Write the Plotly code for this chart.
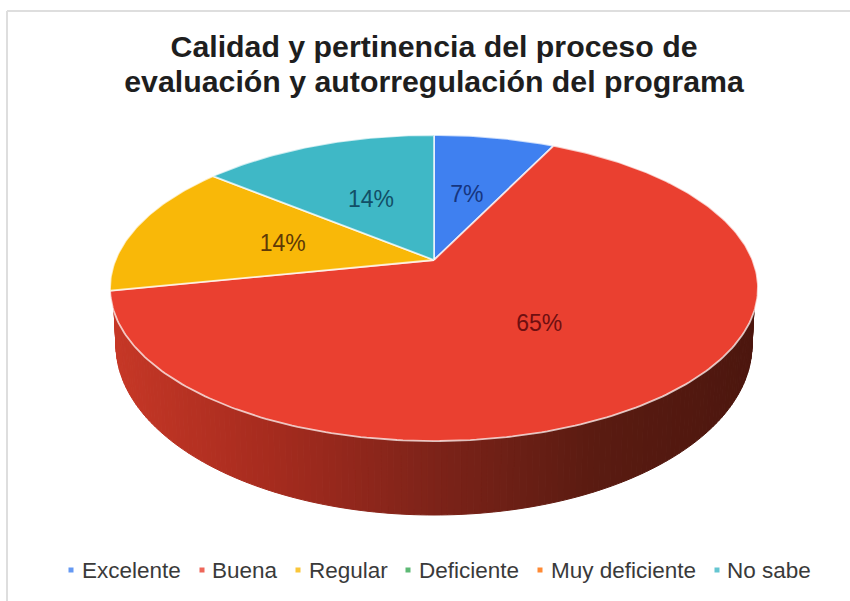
import math
import plotly.graph_objects as go

# ---- data ----
categories = ["Excelente", "Buena", "Regular", "Deficiente", "Muy deficiente", "No sabe"]
percentages = [7.2, 64.6, 14.1, 0, 0, 14.1]
slice_colors = ["#3F80F0", "#EA4030", "#F9B808", "#34A853", "#FF6D01", "#3FB8C6"]
label_colors = ["#16357F", "#6E0F10", "#5E3A06", "#1D5B2E", "#7F3600", "#124F66"]
title_lines = ["Calidad y pertinencia del proceso de",
               "evaluación y autorregulación del programa"]

# ---- layout of the tilted disc ----
W, H = 850, 601
APEX_X, APEX_Y = 434, 260
PERSP = 0.183
RAD_X, RAD_Y = 318.5, 147.9
RIM_CY, RIM_RX, RIM_RY = 288, 321, 152
FOOT_CY, FOOT_RX, FOOT_RY = 345, 318, 170
WALL_STRIPS = 150
WALL_RAMP = [(0.0, (198, 55, 38)), (0.25, (165, 43, 30)), (0.5, (125, 35, 25)),
             (0.75, (90, 27, 17)), (1.0, (76, 22, 14))]
LEGEND_MARK_X = [71, 202, 298, 408, 540, 717]
LEGEND_TEXT_X = [82, 212, 309, 419, 551, 727]
LEGEND_Y = 570
LABEL_SHIFT_X, LABEL_SHIFT_Y = 0, 2.5


def disc_point(theta, r=1.0):
    d = 1 + PERSP * r * math.cos(theta)
    return (APEX_X + r * RAD_X * math.sin(theta) / d,
            APEX_Y - r * RAD_Y * math.cos(theta) / d)


def ramp(t):
    for (a, ca), (b, cb) in zip(WALL_RAMP, WALL_RAMP[1:]):
        if t <= b:
            f = (t - a) / (b - a)
            return "rgb(%d,%d,%d)" % tuple(round(p + (q - p) * f) for p, q in zip(ca, cb))
    return "rgb(%d,%d,%d)" % WALL_RAMP[-1][1]


fig = go.Figure()

# side wall of the disc, drawn as narrow shaded strips
for i in range(WALL_STRIPS):
    p1 = math.pi / 2 + math.pi * i / WALL_STRIPS
    p2 = math.pi / 2 + math.pi * (i + 1) / WALL_STRIPS
    xs = [APEX_X + RIM_RX * math.sin(p1), APEX_X + RIM_RX * math.sin(p2),
          APEX_X + FOOT_RX * math.sin(p2), APEX_X + FOOT_RX * math.sin(p1)]
    ys = [RIM_CY - RIM_RY * math.cos(p1), RIM_CY - RIM_RY * math.cos(p2),
          FOOT_CY - FOOT_RY * math.cos(p2), FOOT_CY - FOOT_RY * math.cos(p1)]
    t = (math.sin(p1) + math.sin(p2) + 2) / 4
    col = ramp(t)
    fig.add_trace(go.Scatter(x=xs + xs[:1], y=ys + ys[:1], mode="lines", fill="toself",
                             fillcolor=col, line=dict(color=col, width=1),
                             hoverinfo="skip", showlegend=False))

# top face slices, from the values
total = sum(percentages)
angle = 0.0
lx, ly, lt, lc = [], [], [], []
for name, pct, col, lab in zip(categories, percentages, slice_colors, label_colors):
    span = 2 * math.pi * pct / total
    if pct > 0:
        n = max(2, int(pct * 4))
        arc = [disc_point(angle + span * j / n) for j in range(n + 1)]
        xs = [APEX_X] + [p[0] for p in arc] + [APEX_X]
        ys = [APEX_Y] + [p[1] for p in arc] + [APEX_Y]
        fig.add_trace(go.Scatter(x=xs, y=ys, mode="lines", fill="toself", fillcolor=col,
                                 line=dict(color="rgba(255,255,255,0.72)", width=1.8),
                                 name=name, hoverinfo="name", showlegend=False))
        mx, my = disc_point(angle + span / 2, 0.5)
        lx.append(mx + LABEL_SHIFT_X); ly.append(my + LABEL_SHIFT_Y)
        lt.append(f"{pct:.0f}%"); lc.append(lab)
    angle += span

fig.add_trace(go.Scatter(x=lx, y=ly, text=lt, mode="text", textposition="middle center",
                         textfont=dict(family="Liberation Sans", size=23, color=lc),
                         hoverinfo="skip", showlegend=False))

# legend row
for name, col, mx, tx in zip(categories, slice_colors, LEGEND_MARK_X, LEGEND_TEXT_X):
    fig.add_trace(go.Scatter(x=[mx], y=[LEGEND_Y], mode="markers", name=name,
                             marker=dict(symbol="square", size=5, color=col, opacity=0.8),
                             hoverinfo="name", showlegend=False))
    fig.add_trace(go.Scatter(x=[tx], y=[LEGEND_Y + 2], text=[name], mode="text",
                             textposition="middle right",
                             textfont=dict(family="Liberation Sans", size=22.5, color="#3A3A3A"),
                             cliponaxis=False, hoverinfo="skip", showlegend=False))

title_html = "<br>".join(f'<span style="font-size:30.3px">{t}</span>' for t in title_lines)
fig.update_layout(
    width=W, height=H, margin=dict(l=0, r=0, t=0, b=0),
    paper_bgcolor="white", plot_bgcolor="white",
    xaxis=dict(range=[0, W], visible=False, fixedrange=True),
    yaxis=dict(range=[H, 0], visible=False, fixedrange=True),
    title=dict(text=title_html, x=434 / W, xanchor="center",
               y=1 - 57 / H, yanchor="middle",
               font=dict(family="Liberation Sans", size=27, color="#1E1E1E", weight="bold")),
    shapes=[
        dict(type="line", xref="x", yref="y", x0=7, x1=W, y0=11, y1=11,
             line=dict(color="#DEDEDE", width=2)),
        dict(type="line", xref="x", yref="y", x0=7, x1=7, y0=11, y1=H,
             line=dict(color="#DEDEDE", width=2)),
    ],
)
fig.write_html("out.html", config={"displayModeBar": False},
               post_script="document.body.style.margin='0';document.documentElement.style.overflow='hidden';")
